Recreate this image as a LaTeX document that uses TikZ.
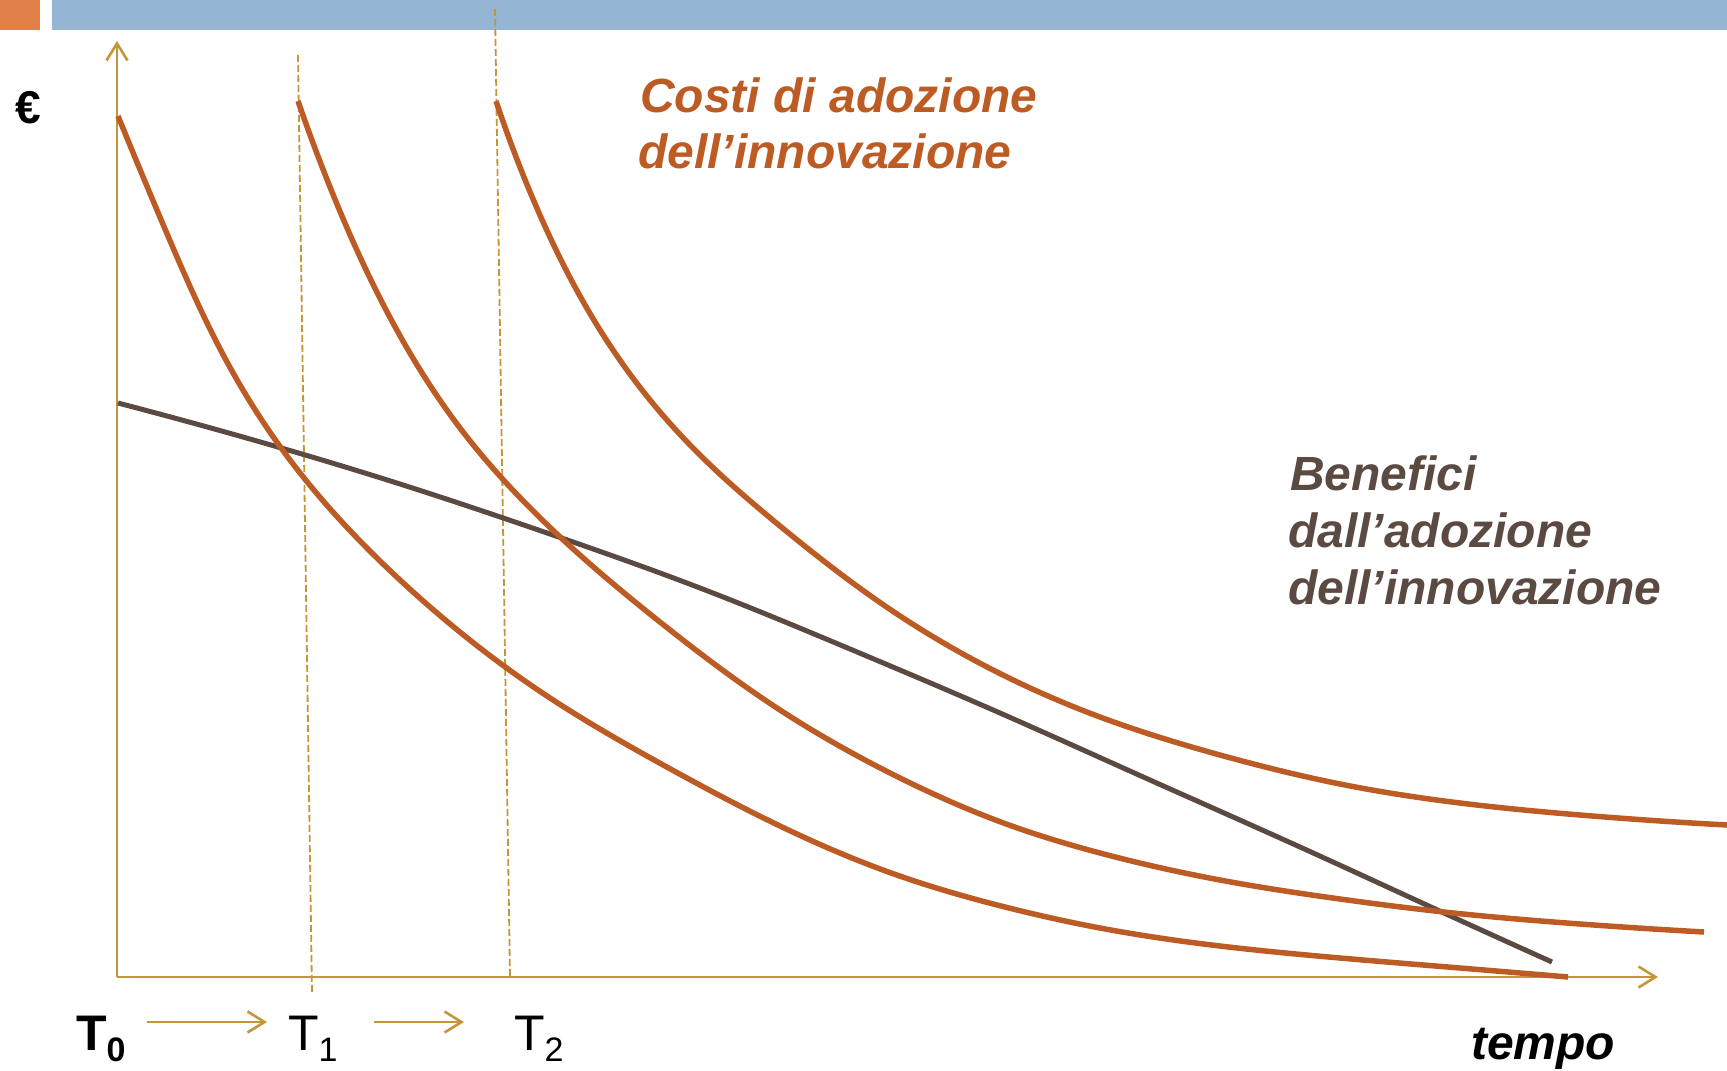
\documentclass[tikz,border=0pt]{standalone}
\usepackage{fontspec}
\setmainfont{Liberation Sans}
\usetikzlibrary{arrows.meta,hobby}
\definecolor{barorange}{HTML}{E07F47}
\definecolor{barblue}{HTML}{94B5D3}
\definecolor{axisgold}{HTML}{C3963A}
\definecolor{costcol}{HTML}{BD5B24}
\definecolor{bencol}{HTML}{5B4A42}
\begin{document}
\begin{tikzpicture}[x=1pt,y=-1pt,
  axisline/.style={draw=axisgold,line width=2.6pt},
  tipped/.style={-{Straight Barb[length=17pt,width=21pt]}},
  guide/.style={draw=axisgold,line width=1.8pt,dash pattern=on 7pt off 3pt},
  costcurve/.style={draw=costcol,line width=5.5pt,use Hobby shortcut},
  bencurve/.style={draw=bencol,line width=5pt,use Hobby shortcut},
  lbl/.style={inner sep=0pt,anchor=base west},
  costtxt/.style={lbl,text=costcol,font=\fontsize{48}{48}\selectfont\bfseries\itshape},
  bentxt/.style={lbl,text=bencol,font=\fontsize{48}{48}\selectfont\bfseries\itshape},
  tlabel/.style={lbl,text=black,font=\fontsize{50}{50}\selectfont},
]
\useasboundingbox (0,0) rectangle (1727,1071);
% top bars
\fill[barorange] (0,0) rectangle (40,30);
\fill[barblue] (52,0) rectangle (1727,30);

% axes
\coordinate (o) at (117,977);
\coordinate (ytop) at (117,41);
\coordinate (xend) at (1658,977);
\draw[axisline,tipped] (o) -- (ytop);
\draw[axisline,tipped] (o) -- (xend);

% dashed guides
\coordinate (g1a) at (298,55);
\coordinate (g1b) at (312,993);
\coordinate (g2a) at (495,9);
\coordinate (g2b) at (510,977);
\draw[guide] (g1a) -- (g1b);
\draw[guide] (g2a) -- (g2b);

% benefits
\draw[bencurve] (118,403) .. (250,439) .. (400,484) .. (550,534) .. (700,588) .. (850,649) .. (1000,713) .. (1150,780) .. (1300,847) .. (1444,913) .. (1552,962);

% cost curves
\draw[costcurve] (118,116) .. (165,229) .. (232,371) .. (290,460) .. (400,580) .. (550,698) .. (665,766) .. (780,826) .. (894,874) .. (1009,908) .. (1100,928) .. (1220,946) .. (1340,958) .. (1460,968) .. (1568,977);
\draw[costcurve] (298,101) .. (330,187) .. (385,308) .. (460,428) .. (558,535) .. (665,626) .. (780,710) .. (894,775) .. (1009,825) .. (1100,853) .. (1220,880) .. (1340,899) .. (1444,912) .. (1580,924) .. (1704,932);
\draw[costcurve] (496,101) .. (528,187) .. (560,258) .. (600,330) .. (650,400) .. (703,458) .. (780,526) .. (894,612) .. (1009,678) .. (1100,717) .. (1220,755) .. (1340,784) .. (1460,803) .. (1580,815) .. (1727,825);

% texts
\node[font=\fontsize{46}{46}\selectfont\bfseries] (euro) at (28,108) {€};
\node[costtxt] (cost1) at (640,112) {Costi di adozione};
\node[costtxt] (cost2) at (638,168) {dell’innovazione};
\node[bentxt] (ben1) at (1290,490) {Benefici};
\node[bentxt] (ben2) at (1288,547) {dall’adozione};
\node[bentxt] (ben3) at (1288,604) {dell’innovazione};
\node[lbl,font=\fontsize{48}{48}\selectfont\bfseries\itshape] (tempo) at (1471,1059) {tempo};

\node[tlabel] (t0) at (76,1050) {\bfseries T\raisebox{-11pt}{\fontsize{34}{34}\selectfont 0}};
\node[tlabel] (t1) at (288,1050) {T\raisebox{-11pt}{\fontsize{34}{34}\selectfont 1}};
\node[tlabel] (t2) at (514,1050) {T\raisebox{-11pt}{\fontsize{34}{34}\selectfont 2}};

\coordinate (a1s) at (147,1022);
\coordinate (a1e) at (267,1022);
\coordinate (a2s) at (374,1022);
\coordinate (a2e) at (464,1022);
\draw[axisline,tipped] (a1s) -- (a1e);
\draw[axisline,tipped] (a2s) -- (a2e);
\end{tikzpicture}
\end{document}
